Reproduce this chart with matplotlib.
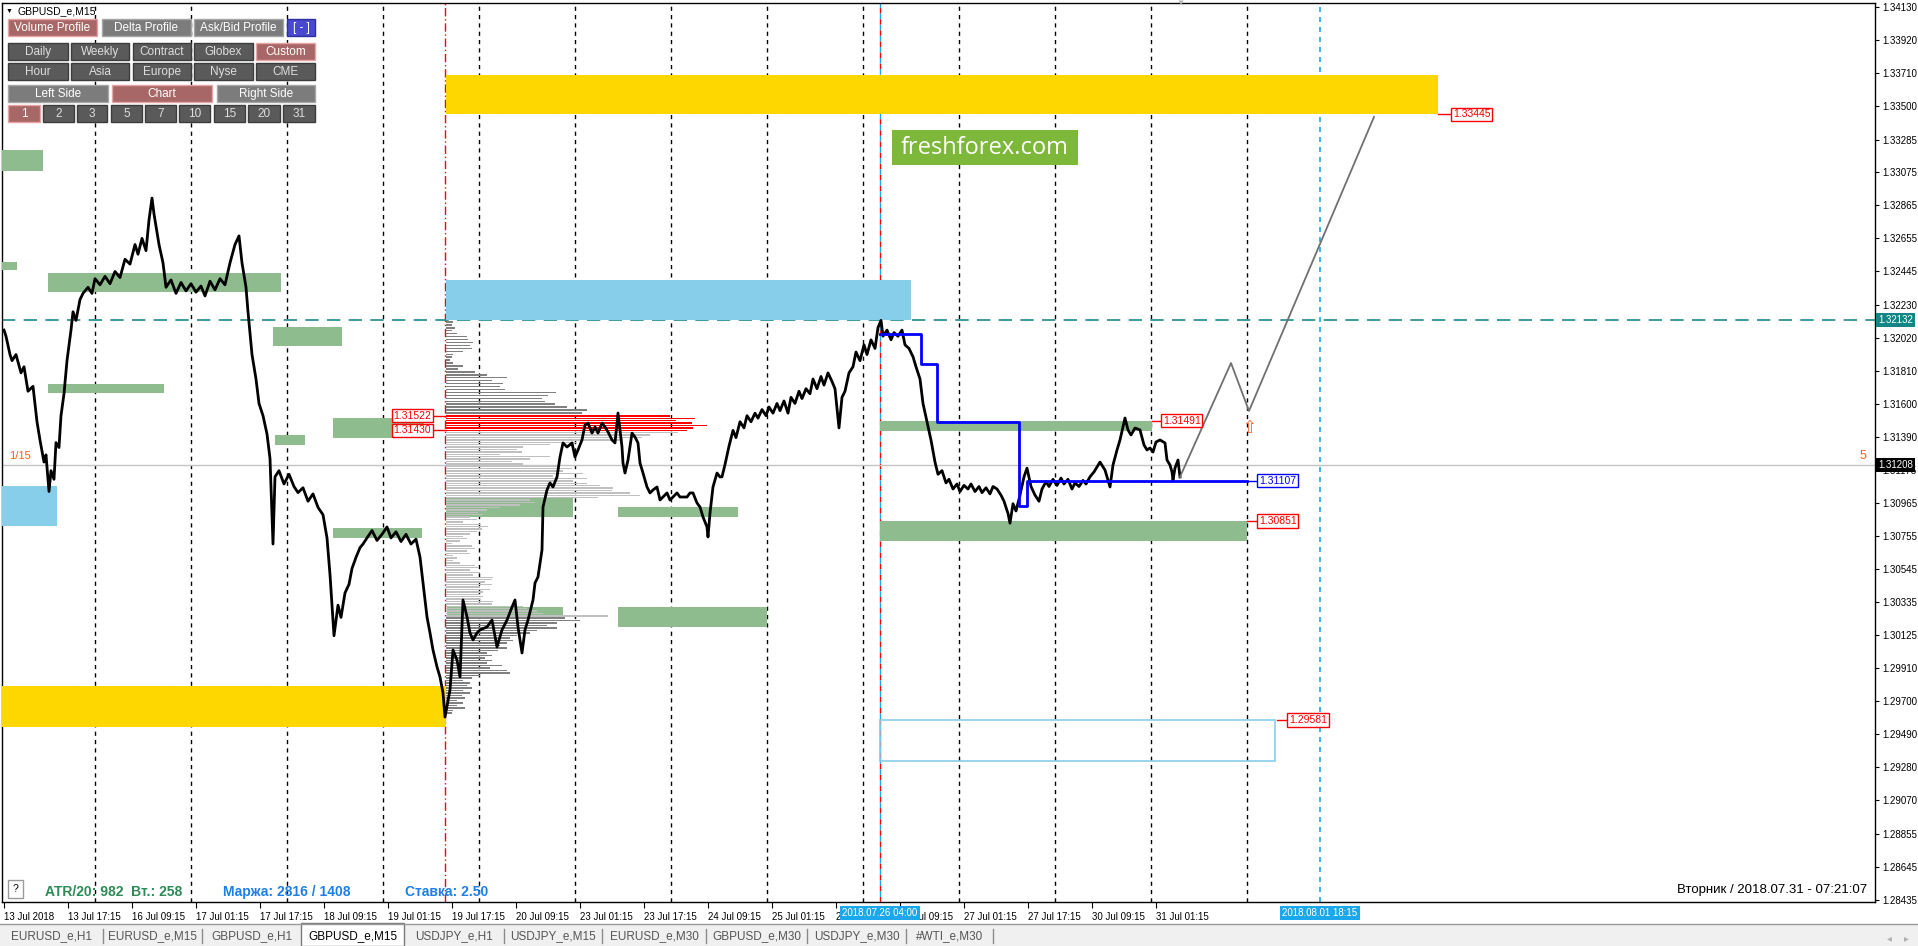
import numpy as np
import matplotlib
matplotlib.use("Agg")
import matplotlib.pyplot as plt
from matplotlib.patches import Rectangle
import matplotlib.transforms as mtransforms

plt.rcParams['font.family'] = ['Liberation Sans', 'DejaVu Sans']

W, H = 1918, 946

# ---------------- data ----------------
# M15 closes, x = bar number counted from 13 Jul 2018 01:15
bar_idx = [0, 2, 6, 8, 12, 17, 20, 24, 29, 33, 36, 40, 42, 45, 47, 50, 52, 55, 57, 60,
           63, 67, 69, 72, 76, 79, 84, 88, 91, 96, 101, 106, 111, 116, 121, 126, 131, 134, 138, 142,
           145, 148, 150, 153, 155, 159, 162, 167, 172, 177, 182, 187, 192, 197, 201, 206, 211, 216, 221, 226,
           231, 235, 238, 242, 244, 248, 252, 255, 259, 263, 266, 269, 271, 275, 280, 285, 290, 294, 299, 304,
           309, 314, 319, 323, 326, 330, 334, 337, 341, 345, 348, 352, 356, 359, 363, 368, 373, 378, 383, 387,
           392, 397, 402, 407, 412,
           416, 419, 423, 426, 429, 433, 436, 439, 441, 446, 449, 453, 456, 459, 463, 466, 469, 473, 476, 483,
           488, 493, 498, 503, 508, 511, 514, 518, 521, 524, 529, 531, 534, 538, 539, 543, 546, 549, 553, 556,
           559, 563, 568, 571, 574, 578, 581, 584, 588, 591, 594, 598, 601, 604, 608, 611, 614, 618, 619, 621,
           624, 628, 631, 634, 636, 639, 643, 646, 649, 653, 656, 659, 663, 666, 669, 673, 676, 679, 683, 686,
           689, 693, 696, 699, 703, 704, 706, 709, 713, 716,
           718, 721, 725, 729, 732, 736, 740, 743, 747, 751, 754, 758, 762, 765, 769, 773, 776, 780, 784, 787,
           791, 795, 798, 802, 806, 809, 813, 817, 820, 824, 828, 831, 835, 838, 841, 845, 849, 852, 856, 860,
           863, 867, 871, 874, 877, 879, 883, 887, 890, 894, 898, 901, 905, 909, 912, 916, 919, 923, 927, 931,
           934, 938, 942, 945, 949, 953, 956, 960, 964, 967, 971, 975, 978, 982, 986, 989, 993, 997, 1000, 1004,
           1006, 1009, 1012, 1016, 1020, 1023, 1027, 1031, 1035, 1038, 1042, 1045, 1049, 1053, 1057, 1060,
           1064, 1068, 1071, 1075, 1079, 1082, 1086, 1090,
           1096, 1101, 1106, 1109, 1113, 1116, 1121, 1124, 1127, 1131, 1136, 1140, 1143, 1146, 1149, 1152,
           1156, 1161, 1163, 1166, 1168, 1169, 1171, 1174, 1176]
close = [1.32069, 1.32030, 1.31913, 1.31874, 1.31913, 1.31796, 1.31835, 1.31679, 1.31710, 1.31484,
         1.31367, 1.31227, 1.31273, 1.31039, 1.31172, 1.31117, 1.31351, 1.31320, 1.31523, 1.31663,
         1.31874, 1.32069, 1.32186, 1.32131, 1.32264, 1.32303, 1.32342, 1.32303, 1.32397, 1.32358,
         1.32412, 1.32365, 1.32443, 1.32404, 1.32521, 1.32490, 1.32615, 1.32553, 1.32654, 1.32576,
         1.32771, 1.32911, 1.32810, 1.32693, 1.32615, 1.32498, 1.32342, 1.32389, 1.32303, 1.32373,
         1.32319, 1.32365, 1.32311, 1.32350, 1.32287, 1.32381, 1.32326, 1.32397, 1.32358, 1.32498,
         1.32615, 1.32670, 1.32498, 1.32342, 1.32186, 1.31913, 1.31757, 1.31601, 1.31523, 1.31406,
         1.31250, 1.30704, 1.31133, 1.31172, 1.31087, 1.31149, 1.31071, 1.31032, 1.31063, 1.30977,
         1.31024, 1.30938, 1.30891, 1.30743, 1.30509, 1.30119, 1.30314, 1.30236, 1.30392, 1.30447,
         1.30548, 1.30619, 1.30681, 1.30704, 1.30743, 1.30790, 1.30727, 1.30766, 1.30813, 1.30743,
         1.30782, 1.30720, 1.30766, 1.30704, 1.30735,
         1.30621, 1.30455, 1.30239, 1.30137, 1.30028, 1.29920, 1.29856, 1.29754, 1.29600, 1.29773,
         1.30028, 1.29964, 1.29856, 1.30347, 1.30239, 1.30137, 1.30092, 1.30137, 1.30156, 1.30175,
         1.30219, 1.30047, 1.30156, 1.30219, 1.30302, 1.30347, 1.30175, 1.30009, 1.30156, 1.30219,
         1.30347, 1.30455, 1.30494, 1.30666, 1.30940, 1.31049, 1.31094, 1.31068, 1.31132, 1.31259,
         1.31349, 1.31323, 1.31349, 1.31259, 1.31304, 1.31368, 1.31464, 1.31476, 1.31412, 1.31451,
         1.31412, 1.31476, 1.31451, 1.31419, 1.31368, 1.31349, 1.31540, 1.31323, 1.31221, 1.31157,
         1.31240, 1.31412, 1.31387, 1.31349, 1.31221, 1.31157, 1.31068, 1.31030, 1.31049, 1.31068,
         1.30985, 1.31004, 1.31030, 1.30985, 1.31004, 1.31030, 1.31004, 1.31004, 1.31004, 1.31030,
         1.31030, 1.30966, 1.30940, 1.30877, 1.30813, 1.30749, 1.30902, 1.31068, 1.31157, 1.31132,
         1.31133, 1.31211, 1.31328, 1.31429, 1.31383, 1.31484, 1.31445, 1.31523, 1.31484, 1.31539,
         1.31507, 1.31562, 1.31523, 1.31578, 1.31539, 1.31601, 1.31555, 1.31617, 1.31539, 1.31640,
         1.31601, 1.31679, 1.31632, 1.31695, 1.31663, 1.31757, 1.31695, 1.31773, 1.31718, 1.31796,
         1.31741, 1.31695, 1.31445, 1.31640, 1.31679, 1.31796, 1.31835, 1.31929, 1.31874, 1.31975,
         1.31913, 1.32007, 1.31952, 1.32085, 1.32131, 1.32030, 1.32069, 1.32007, 1.32053, 1.32030,
         1.32069, 1.31975, 1.31952, 1.31899, 1.31835, 1.31757, 1.31601, 1.31484, 1.31367, 1.31227,
         1.31149, 1.31172, 1.31094, 1.31117, 1.31055, 1.31087, 1.31039, 1.31078, 1.31055, 1.31087,
         1.31039, 1.31071, 1.31032, 1.31063, 1.31024, 1.31071, 1.31055, 1.31016, 1.30977, 1.30899,
         1.30837, 1.30961, 1.30915, 1.31016, 1.31133, 1.31188, 1.31071, 1.31016, 1.30977, 1.31055,
         1.31102, 1.31071, 1.31117, 1.31078, 1.31125, 1.31087, 1.31117, 1.31055, 1.31094, 1.31071,
         1.31110, 1.31087, 1.31133, 1.31164,
         1.31227, 1.31176, 1.31068, 1.31208, 1.31304, 1.31368, 1.31508, 1.31432, 1.31400, 1.31444,
         1.31432, 1.31336, 1.31304, 1.31317, 1.31291, 1.31355, 1.31368, 1.31349, 1.31240, 1.31208,
         1.31164, 1.31113, 1.31189, 1.31240, 1.31132]

price_ticks = [1.34130, 1.33920, 1.33710, 1.33500, 1.33285, 1.33075, 1.32865, 1.32655, 1.32445,
               1.32230, 1.32020, 1.31810, 1.31600, 1.31390, 1.31175, 1.30965, 1.30755, 1.30545,
               1.30335, 1.30125, 1.29910, 1.29700, 1.29490, 1.29280, 1.29070, 1.28855, 1.28645, 1.28435]
time_labels = ["13 Jul 2018", "13 Jul 17:15", "16 Jul 09:15", "17 Jul 01:15", "17 Jul 17:15",
               "18 Jul 09:15", "19 Jul 01:15", "19 Jul 17:15", "20 Jul 09:15", "23 Jul 01:15",
               "23 Jul 17:15", "24 Jul 09:15", "25 Jul 01:15", "25 Jul 17:15", "26 Jul 09:15",
               "27 Jul 01:15", "27 Jul 17:15", "30 Jul 09:15", "31 Jul 01:15"]
time_bars = [64 * i for i in range(len(time_labels))]
day_sep_bars = [91 + 96 * i for i in range(13)]

# zones: (bar_from, bar_to, price_low, price_high)
gold_zones = [(442, 1434, 1.33445, 1.33695), (-2, 442, 1.29539, 1.29798)]
blue_zones = [(442, 907, 1.32131, 1.32389), (-2, 53, 1.30819, 1.31074)]
green_zones = [(-2, 39, 1.33084, 1.33218), (-2, 13, 1.32452, 1.32503), (44, 277, 1.32312, 1.32433),
               (269, 338, 1.31968, 1.32089), (44, 160, 1.31668, 1.31725), (329, 420, 1.31381, 1.31508),
               (271, 301, 1.31336, 1.31400), (329, 418, 1.30743, 1.30806), (442, 569, 1.30877, 1.31004),
               (614, 734, 1.30877, 1.30940), (443, 559, 1.30245, 1.30302), (614, 763, 1.30175, 1.30302),
               (876, 1148, 1.31425, 1.31491), (876, 1243, 1.30723, 1.30851)]
outline_zone = (876, 1271, 1.29320, 1.29581)

# volume profile of the custom range (lengths in bars)
vp_top = [7, 6, 9, 6, 11, 21, 22, 27, 24, 26, 17, 7, 6, 4, 7, 17, 12, 29, 41, 61, 46, 57, 54, 59,
          110, 102, 96, 99, 109, 121, 141, 136]
vp_poc = [224, 249, 230, 246, 261, 247, 241]
vp_value = [232, 204, 196, 177, 131, 104, 77, 71, 76, 54, 104, 84, 66, 77, 114, 126, 117, 137, 107, 141,
            127, 141, 154, 167, 166, 184, 194, 152, 84, 89, 74, 54, 41, 32, 37, 24, 31, 17, 34, 42,
            36, 31, 24, 17, 21, 14, 6, 26, 29, 21, 24, 7, 11, 7, 14, 29, 32, 24, 34, 27,
            47, 46, 39, 46, 34, 44, 37, 34, 37, 34, 47, 46, 77, 81, 91, 97, 162]
vp_bottom = [119, 134, 111, 101, 111, 91, 84, 71, 64, 67, 61, 54, 61, 52, 41, 46, 39, 46, 41, 56,
             44, 61, 64, 34, 26, 17, 24, 21, 26, 17, 24, 16, 19, 11, 17, 11, 19, 7, 6]
vp_start = 442

step_bars = [876, 917, 917, 933, 933, 1015, 1015, 1023, 1023, 1243]
step_prices = [1.32046, 1.32046, 1.31851, 1.31851, 1.31484, 1.31484, 1.30946, 1.30946, 1.31107, 1.31107]

proj_bars = [1176, 1227, 1245, 1370]
proj_prices = [1.31132, 1.31859, 1.31553, 1.33429]

# (line from, line to, price, colour)
level_labels = [(442, 429, 1.31522, 'red'), (442, 429, 1.31430, 'red'), (1148, 1157, 1.31491, 'red'),
                (1243, 1253, 1.31107, 'blue'), (1243, 1253, 1.30851, 'red'),
                (1273, 1283, 1.29581, 'red'), (1434, 1447, 1.33445, 'red')]

bid_price = 1.31208
line_price = 1.32132

# ---------------- figure ----------------
fig = plt.figure(figsize=(W / 100, H / 100), dpi=100)
fig.patch.set_facecolor('white')
ax = fig.add_axes([2 / W, 44 / H, 1873 / W, 899 / H])
ax.set_xlim(-2, 1871)
ax.set_ylim(1.28420, 1.34156)

for b in day_sep_bars:
    ax.axvline(b, color='black', lw=1, ls=(0, (3, 3)), zorder=1)
ax.axvline(441, color='red', lw=1, ls=(0, (6, 2, 1, 2)), zorder=1)
ax.axvline(876, color='red', lw=1, ls=(0, (4, 4)), zorder=1)
ax.axvline(876, color='#1aa7ec', lw=1, ls=(4, (4, 4)), zorder=1)
ax.axvline(1316, color='#1aa7ec', lw=1.2, ls=(0, (3, 3)), zorder=1)

for x0, x1, lo, hi in gold_zones:
    ax.add_patch(Rectangle((x0, lo), x1 - x0, hi - lo, fc='#ffd700', ec='none', zorder=3))
for x0, x1, lo, hi in blue_zones:
    ax.add_patch(Rectangle((x0, lo), x1 - x0, hi - lo, fc='#87ceeb', ec='none', zorder=3))
for x0, x1, lo, hi in green_zones:
    ax.add_patch(Rectangle((x0, lo), x1 - x0, hi - lo, fc='#8fbc8f', ec='none', zorder=3))
x0, x1, lo, hi = outline_zone
ax.add_patch(Rectangle((x0, lo), x1 - x0, hi - lo, fc='none', ec='#87ceeb', lw=1.2, zorder=3))

ax.axhline(line_price, color='#1f8a8a', lw=1.2, ls=(0, (8, 5)), zorder=2)
ax.axhline(bid_price, color='#c4c4c4', lw=1, zorder=2)

# volume profile
vp_parts = [(vp_top, 1.32121, 1.31540, '#808080'), (vp_poc, 1.31522, 1.31430, 'red'),
            (vp_value, 1.31415, 1.30245, '#c0c0c0'), (vp_bottom, 1.30232, 1.29626, '#808080')]
for lens, top, bot, col in vp_parts:
    lv = np.linspace(top, bot, len(lens))
    ax.barh(lv, lens, left=vp_start, height=0.00009, color=col, lw=0, zorder=4)

ax.plot(bar_idx, close, color='black', lw=2, zorder=6)
ax.plot(step_bars, step_prices, color='#0000ff', lw=2, zorder=7)
ax.plot(proj_bars, proj_prices, color='#707070', lw=1.3, zorder=7)
ax.text(1245, 1.31440, '\u21e7', color='#ff5a2a', fontsize=12, ha='center', va='center', zorder=8)

for a, b, p, c in level_labels:
    ax.plot([a, b], [p, p], color=c, lw=1, zorder=8)
    if b < a:
        ax.text(b - 2, p, f"{p:.5f}", ha='right', va='center', fontsize=7.5, color=c, zorder=9,
                bbox=dict(boxstyle='square,pad=0.15', fc='white', ec=c, lw=1))
    else:
        ax.text(b + 2, p, f"{p:.5f}", ha='left', va='center', fontsize=7.5, color=c, zorder=9,
                bbox=dict(boxstyle='square,pad=0.15', fc='white', ec=c, lw=1))

# axes look
for s in ax.spines.values():
    s.set_color('black')
    s.set_linewidth(1)
ax.yaxis.tick_right()
ax.set_yticks(price_ticks)
ax.set_yticklabels([f"{p:.5f}" for p in price_ticks])
ax.tick_params(axis='y', direction='out', length=3, pad=2, labelsize=7, colors='black')
ax.set_xticks(time_bars)
ax.set_xticklabels(time_labels)
for lab in ax.get_xticklabels():
    lab.set_ha('left')
ax.tick_params(axis='x', direction='out', length=4, pad=3, labelsize=7, colors='black')

ty = mtransforms.blended_transform_factory(ax.transAxes, ax.transData)
ax.text(1.0 + 3 / 1873, line_price, f"{line_price:.5f}", transform=ty, ha='left', va='center',
        fontsize=7, color='white', clip_on=False, zorder=10,
        bbox=dict(boxstyle='square,pad=0.2', fc='#138585', ec='none'))
ax.text(1.0 + 3 / 1873, bid_price, f"{bid_price:.5f}", transform=ty, ha='left', va='center',
        fontsize=7, color='white', clip_on=False, zorder=10,
        bbox=dict(boxstyle='square,pad=0.2', fc='black', ec='none'))

tx = mtransforms.blended_transform_factory(ax.transData, ax.transAxes)
for b, s in [(876, "2018.07.26 04:00"), (1316, "2018.08.01 18:15")]:
    ax.text(b, -11 / 899, s, transform=tx, ha='center', va='center', fontsize=7, color='white',
            clip_on=False, zorder=10, bbox=dict(boxstyle='square,pad=0.25', fc='#1aa7ec', ec='none'))

# ---------------- overlay (terminal widgets) ----------------
ov = fig.add_axes([0, 0, 1, 1], zorder=5)
ov.set_xlim(0, W)
ov.set_ylim(H, 0)
ov.axis('off')
ov.patch.set_alpha(0)


def button(x0, x1, y0, y1, label, face, edge, tc='white'):
    ov.add_patch(Rectangle((x0, y0), x1 - x0, y1 - y0, fc=face, ec=edge, lw=1))
    ov.text((x0 + x1) / 2, (y0 + y1) / 2 + 0.5, label, ha='center', va='center', fontsize=8.5, color=tc)


RED, REDE = '#a86767', '#e6a5a5'
GR, GRE = '#7c7c7c', '#a6a6a6'
DK, DKE = '#5a5a5a', '#3c3c3c'

ov.text(6, 11, '\u25bc', fontsize=5, ha='left', va='center', color='black')
ov.text(18, 11, 'GBPUSD_e,M15', fontsize=7.5, ha='left', va='center', color='black')

button(8, 97, 19, 36, 'Volume Profile', RED, REDE)
button(102, 191, 19, 36, 'Delta Profile', GR, GRE)
button(194, 283, 19, 36, 'Ask/Bid Profile', GR, GRE)
button(287, 315, 19, 36, '[ - ]', '#4848d0', '#2f2fa0')
cols = [(8, 68), (71, 129), (133, 191), (194, 253), (256, 315)]
for (a, b), t in zip(cols, ['Daily', 'Weekly', 'Contract', 'Globex', 'Custom']):
    if t == 'Custom':
        button(a, b, 43, 60, t, RED, REDE)
    else:
        button(a, b, 43, 60, t, DK, DKE, '#dedede')
for (a, b), t in zip(cols, ['Hour', 'Asia', 'Europe', 'Nyse', 'CME']):
    button(a, b, 63, 80, t, DK, DKE, '#dedede')
button(8, 108, 85, 102, 'Left Side', GR, GRE)
button(112, 212, 85, 102, 'Chart', RED, REDE)
button(217, 315, 85, 102, 'Right Side', GR, GRE)
ncols = [(8, 40), (43, 74), (77, 107), (111, 142), (145, 176), (179, 210), (214, 245), (248, 280), (283, 315)]
for (a, b), t in zip(ncols, ['1', '2', '3', '5', '7', '10', '15', '20', '31']):
    if t == '1':
        button(a, b, 105, 122, t, RED, REDE)
    else:
        button(a, b, 105, 122, t, DK, DKE, '#dedede')

ov.add_patch(Rectangle((892, 130), 186, 35, fc='#7db83a', ec='none'))
ov.text(985, 147.5, 'freshforex.com', ha='center', va='center', fontsize=17, color='white',
        family=['Open Sans', 'DejaVu Sans'])

ov.text(1180, 3, '\u25bc', fontsize=6, ha='center', va='center', color='#b8b8b8')
ov.text(9, 456, '1/15', fontsize=8, color='#ff5a1e', ha='left', va='center')
ov.text(1866, 456, '5', fontsize=9, color='#ff5a1e', ha='right', va='center')

ov.add_patch(Rectangle((8, 880), 15, 18, fc='white', ec='#9a9a9a', lw=1))
ov.text(15.5, 889, '?', fontsize=7.5, ha='center', va='center', color='black')
ov.text(45, 892, 'ATR/20: 982  Вт.: 258', fontsize=10, fontweight='bold', color='#2e8b57',
        ha='left', va='center')
ov.text(223, 892, 'Маржа: 2816 / 1408', fontsize=10, fontweight='bold', color='#1e7fe6',
        ha='left', va='center')
ov.text(405, 892, 'Ставка: 2.50', fontsize=10, fontweight='bold', color='#1e7fe6',
        ha='left', va='center')
ov.text(1867, 890, 'Вторник / 2018.07.31 - 07:21:07', fontsize=9.5, color='black',
        ha='right', va='center')

# tab bar
ov.add_patch(Rectangle((0, 924), W, 22, fc='#f0f0f0', ec='none'))
ov.plot([0, W], [924, 924], color='#9a9a9a', lw=1)
tabs = ["EURUSD_e,H1", "EURUSD_e,M15", "GBPUSD_e,H1", "GBPUSD_e,M15", "USDJPY_e,H1",
        "USDJPY_e,M15", "EURUSD_e,M30", "GBPUSD_e,M30", "USDJPY_e,M30", "#WTI_e,M30"]
tab_edges = [0, 103, 202, 301, 404, 504, 602, 706, 807, 906, 993]
ov.add_patch(Rectangle((301, 923), 103, 23, fc='white', ec='#7a7a7a', lw=1))
for i, t in enumerate(tabs):
    cx = (tab_edges[i] + tab_edges[i + 1]) / 2
    ov.text(cx, 936, t, fontsize=8.5, ha='center', va='center',
            color='black' if i == 3 else '#555555')
for e in tab_edges[1:]:
    if e not in (301, 404):
        ov.plot([e, e], [929, 943], color='#8a8a8a', lw=1)
ov.text(1889, 938, '\u25c2', fontsize=7, color='#b0b0b0', ha='center', va='center')
ov.text(1906, 938, '\u25b8', fontsize=7, color='#b0b0b0', ha='center', va='center')

fig.savefig('out.png', dpi=100)
